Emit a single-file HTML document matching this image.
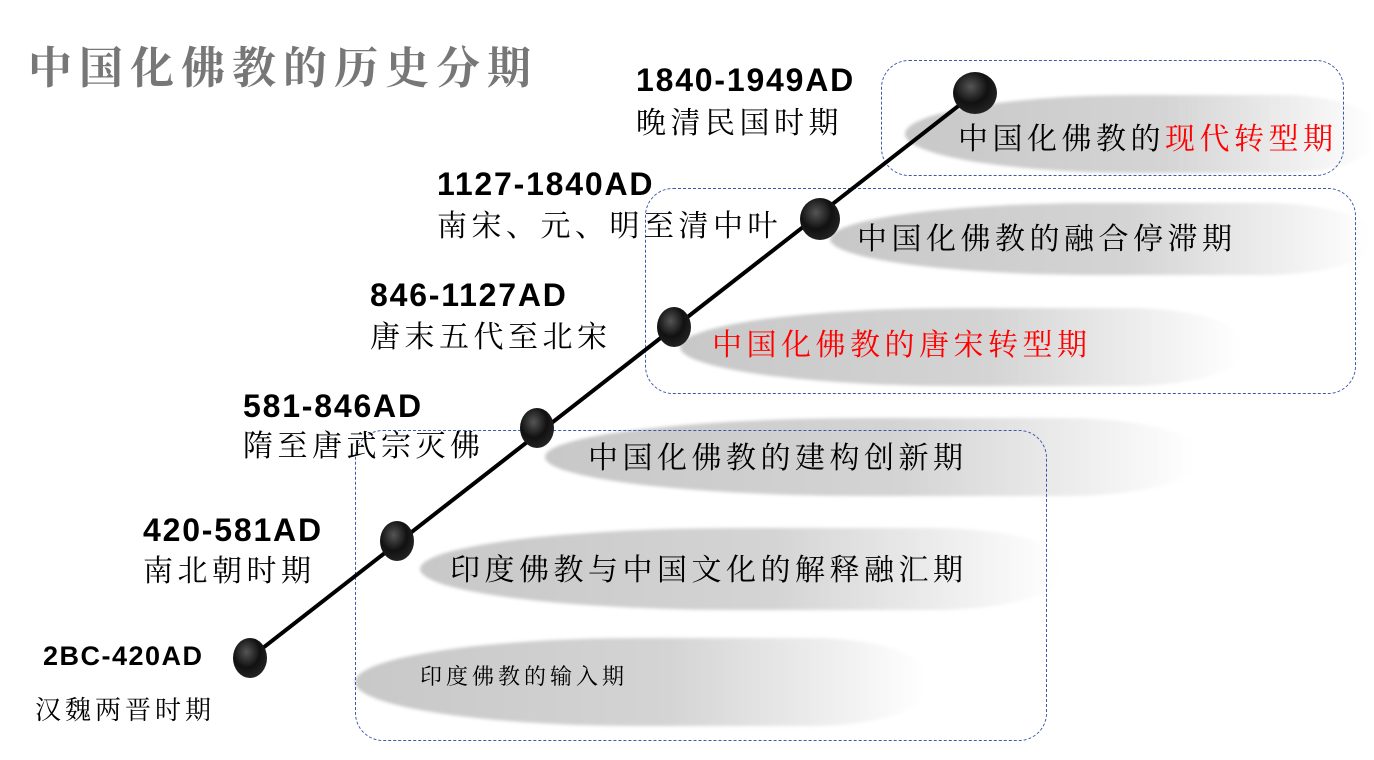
<!DOCTYPE html>
<html><head><meta charset="utf-8"><style>
body{margin:0;width:1374px;height:760px;background:#fff;position:relative;overflow:hidden;font-family:"Liberation Serif","Noto Serif CJK SC",serif}
.t{position:absolute;white-space:nowrap;line-height:1}
.d{font-family:"Liberation Sans",sans-serif;font-weight:bold;font-size:32px;letter-spacing:1.8px;color:#000}
.c{font-size:30px;color:#000;letter-spacing:4.5px}
.r{color:#f00}
.box{position:absolute;border:1px dashed #3a5aa8;border-radius:28px}
.brush{position:absolute;background:linear-gradient(90deg,#c8c8c8 0%,#d4d4d4 55%,rgba(225,225,225,0.5) 85%,rgba(255,255,255,0) 100%);border-radius:50% 20% 20% 50%/50% 40% 40% 50%;filter:blur(1.5px)}
</style></head><body>
<div class="t" style="left:28px;top:42px;font-size:44px;color:#777;letter-spacing:7px;font-weight:bold;font-family:'Noto Serif CJK SC',serif">中国化佛教的历史分期</div>

<div class="brush" style="left:905px;top:95px;width:470px;height:78px"></div>
<div class="brush" style="left:830px;top:203px;width:540px;height:72px"></div>
<div class="brush" style="left:680px;top:308px;width:560px;height:78px"></div>
<div class="brush" style="left:545px;top:418px;width:650px;height:78px"></div>
<div class="brush" style="left:420px;top:528px;width:640px;height:82px"></div>
<div class="brush" style="left:355px;top:638px;width:570px;height:88px"></div>

<div class="box" style="left:881px;top:60px;width:461px;height:114px"></div>
<div class="box" style="left:645px;top:188px;width:709px;height:204px"></div>
<div class="box" style="left:355px;top:430px;width:690px;height:309px"></div>

<svg style="position:absolute;left:0;top:0" width="1374" height="760">
<defs><radialGradient id="g" cx="40%" cy="35%" r="65%"><stop offset="0" stop-color="#555"/><stop offset="0.6" stop-color="#111"/><stop offset="1" stop-color="#222"/></radialGradient></defs>
<line x1="250" y1="658" x2="975" y2="93" stroke="#000" stroke-width="4"/>
<g fill="url(#g)">
<ellipse cx="250" cy="658" rx="17" ry="20"/>
<ellipse cx="397" cy="541" rx="17" ry="20"/>
<ellipse cx="537" cy="428" rx="17" ry="20"/>
<ellipse cx="674" cy="327" rx="17" ry="20"/>
<ellipse cx="820" cy="219" rx="20" ry="21"/>
<ellipse cx="975" cy="93" rx="22" ry="21"/>
</g></svg>

<div class="t c" style="left:958px;top:125px">中国化佛教的<span class="r">现代转型期</span></div>
<div class="t c" style="left:857px;top:225px">中国化佛教的融合停滞期</div>
<div class="t c r" style="left:712px;top:331px">中国化佛教的唐宋转型期</div>
<div class="t c" style="left:588px;top:444px">中国化佛教的建构创新期</div>
<div class="t c" style="left:450px;top:556px">印度佛教与中国文化的解释融汇期</div>
<div class="t" style="left:420px;top:666px;font-size:22px;letter-spacing:4px">印度佛教的输入期</div>

<div class="t d" style="left:636px;top:64px">1840-1949AD</div>
<div class="t c" style="left:636px;top:109px">晚清民国时期</div>
<div class="t d" style="left:437px;top:168px">1127-1840AD</div>
<div class="t c" style="left:437px;top:212px">南宋、元、明至清中叶</div>
<div class="t d" style="left:370px;top:279px">846-1127AD</div>
<div class="t c" style="left:370px;top:323px">唐末五代至北宋</div>
<div class="t d" style="left:243px;top:390px">581-846AD</div>
<div class="t c" style="left:243px;top:432px">隋至唐武宗灭佛</div>
<div class="t d" style="left:143px;top:514px">420-581AD</div>
<div class="t c" style="left:143px;top:557px">南北朝时期</div>
<div class="t d" style="left:43px;top:643px;font-size:27px;letter-spacing:1.5px">2BC-420AD</div>
<div class="t" style="left:35px;top:698px;font-size:26px;letter-spacing:4px">汉魏两晋时期</div>
</body></html>
